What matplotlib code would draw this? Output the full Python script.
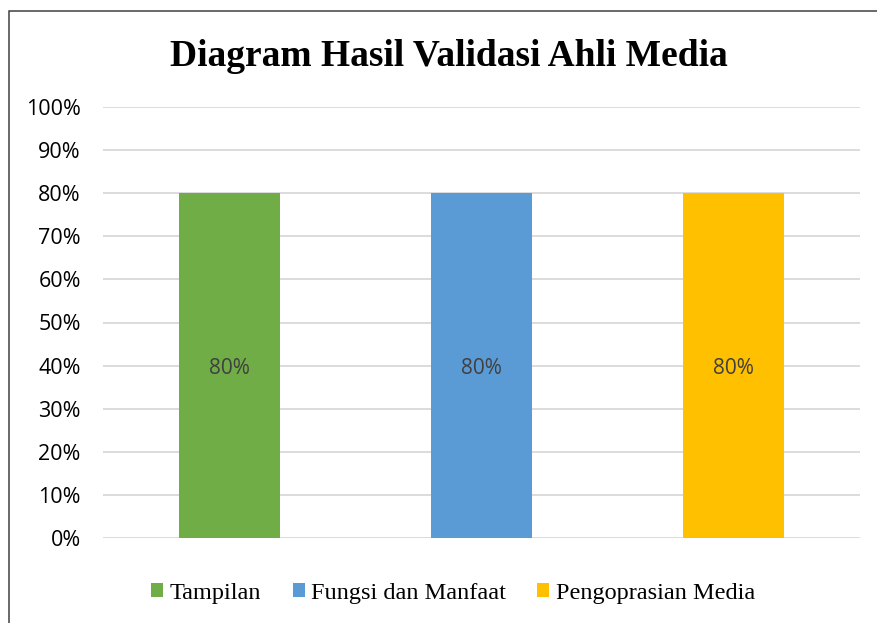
import matplotlib.pyplot as plt
from matplotlib.patches import Rectangle, Patch

# data
categories = ["Tampilan", "Fungsi dan Manfaat", "Pengoprasian Media"]
values = [0.80, 0.80, 0.80]
colors = ["#70AD47", "#5B9BD5", "#FFC000"]
yticks = [i / 10 for i in range(11)]
ytick_labels = [f"{i * 10}%" for i in range(11)]

fig = plt.figure(figsize=(8.78, 6.23), dpi=100)
ax = fig.add_axes([103 / 878, 85 / 623, 757 / 878, 431 / 623])

x = list(range(len(categories)))
bars = ax.bar(x, values, width=0.4, color=colors, zorder=3)

for b, v in zip(bars, values):
    ax.text(b.get_x() + b.get_width() / 2, v / 2 - 0.007, f"{v * 100:.0f}%",
            ha="center", va="center", fontsize=15, color="#404040",
            family="Open Sans", zorder=4)

ax.set_xlim(-0.5, 2.5)
ax.set_ylim(0, 1)
ax.set_yticks(yticks)
ax.set_yticklabels(ytick_labels, family="Open Sans", fontsize=15.5, color="#000000")
ax.set_xticks([])
ax.tick_params(axis="y", length=0, pad=16)
ax.grid(axis="y", color="#D9D9D9", linewidth=1.3, zorder=0)
for s in ax.spines.values():
    s.set_visible(False)

fig.text(449 / 878, 1 - 57 / 623, "Diagram Hasil Validasi Ahli Media",
         ha="center", va="center", fontsize=27, fontweight="bold",
         family="Liberation Serif")

handles = [Patch(facecolor=c, label=l) for c, l in zip(colors, categories)]
fig.legend(handles=handles, loc="center", bbox_to_anchor=(453 / 878, 1 - 593 / 623),
           ncol=3, frameon=False, prop={"family": "Liberation Serif", "size": 17.5},
           handlelength=0.5, handleheight=0.5, handletextpad=0.25, columnspacing=1.3)

# outer chart border (partly cut off at the right and bottom)
fig.add_artist(Rectangle((9 / 878, -0.2), 2, 1.2 - 11 / 623, transform=fig.transFigure,
                         fill=False, edgecolor="#404040", linewidth=1.1))

fig.savefig("out.png", dpi=100)
